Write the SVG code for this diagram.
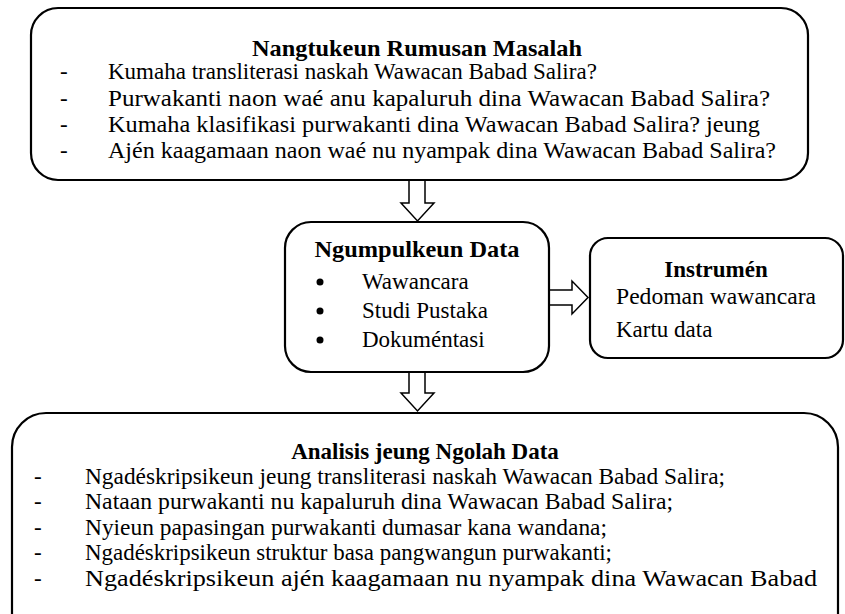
<svg xmlns="http://www.w3.org/2000/svg" width="845" height="614" viewBox="0 0 845 614">
<style>
.box{fill:#fff;stroke:#000;stroke-width:2.2}
.arr{fill:#fff;stroke:#000;stroke-width:1.5;stroke-linejoin:miter}
text{font-family:"Liberation Serif","Times New Roman",serif;fill:#000;font-size:23px}
.t{font-weight:bold;text-anchor:middle}
</style>
<rect width="845" height="614" fill="#fff"/>
<g id="connectors">
<polygon class="arr" points="409,180 425,180 425,203 434,203 417.5,221 401,203 409,203"/>
<polygon class="arr" points="409,372 425,372 425,393 434,393 417.5,411 401,393 409,393"/>
<polygon class="arr" points="549,290 572,290 572,281 588,297.5 572,314 572,305 549,305"/>
</g>
<g id="rumusan">
<rect class="box" x="31" y="8" width="777" height="172" rx="27"/>
<text class="t" x="417" y="56" textLength="330" lengthAdjust="spacingAndGlyphs">Nangtukeun Rumusan Masalah</text>
<text x="60" y="79">-</text><text x="108" y="79">Kumaha transliterasi naskah Wawacan Babad Salira?</text>
<text x="60" y="106">-</text><text x="108" y="106" textLength="662" lengthAdjust="spacingAndGlyphs">Purwakanti naon waé anu kapaluruh dina Wawacan  Babad Salira?</text>
<text x="60" y="132">-</text><text x="108" y="132" textLength="652" lengthAdjust="spacingAndGlyphs">Kumaha klasifikasi purwakanti dina Wawacan Babad Salira? jeung</text>
<text x="60" y="158">-</text><text x="108" y="158" textLength="668" lengthAdjust="spacingAndGlyphs">Ajén kaagamaan  naon waé nu nyampak dina Wawacan Babad Salira?</text>
</g>
<g id="ngumpulkeun">
<rect class="box" x="285" y="222" width="264" height="150" rx="26"/>
<text class="t" x="417" y="257" textLength="205" lengthAdjust="spacingAndGlyphs">Ngumpulkeun Data</text>
<circle cx="320" cy="282" r="3.5"/><text x="362" y="289">Wawancara</text>
<circle cx="320" cy="311" r="3.5"/><text x="362" y="318">Studi Pustaka</text>
<circle cx="320" cy="340" r="3.5"/><text x="362" y="347">Dokuméntasi</text>
</g>
<g id="instrumen">
<rect class="box" x="590" y="238" width="253" height="120" rx="18"/>
<text class="t" x="716" y="277">Instrumén</text>
<text x="616" y="304" textLength="200" lengthAdjust="spacingAndGlyphs">Pedoman wawancara</text>
<text x="616" y="337">Kartu data</text>
</g>
<g id="analisis">
<rect class="box" x="12" y="413" width="826" height="260" rx="34"/>
<text class="t" x="425" y="459">Analisis jeung Ngolah Data</text>
<text x="34" y="484">-</text><text x="85" y="484" textLength="640" lengthAdjust="spacingAndGlyphs">Ngadéskripsikeun jeung transliterasi naskah Wawacan Babad Salira;</text>
<text x="34" y="509">-</text><text x="85" y="509" textLength="588" lengthAdjust="spacingAndGlyphs">Nataan purwakanti nu kapaluruh dina Wawacan Babad Salira;</text>
<text x="34" y="535">-</text><text x="85" y="535" textLength="522" lengthAdjust="spacingAndGlyphs">Nyieun papasingan purwakanti dumasar kana wandana;</text>
<text x="34" y="560">-</text><text x="85" y="560" textLength="527" lengthAdjust="spacingAndGlyphs">Ngadéskripsikeun struktur basa pangwangun purwakanti;</text>
<text x="34" y="586">-</text><text x="85" y="586" textLength="732" lengthAdjust="spacingAndGlyphs">Ngadéskripsikeun ajén kaagamaan nu nyampak dina Wawacan Babad</text>
</g>
</svg>
